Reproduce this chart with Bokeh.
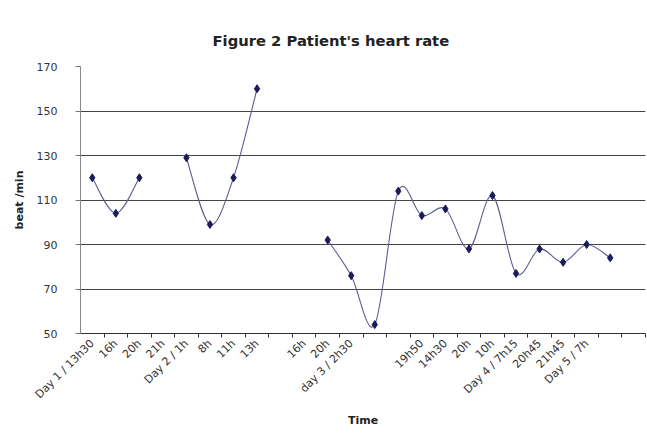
import math
from bokeh.plotting import figure
from bokeh.models import FixedTicker, ColumnDataSource, Range1d
from bokeh.embed import file_html
from bokeh.resources import INLINE

# ---- data ----
time_labels = ["Day 1 / 13h30", "16h", "20h", "21h", "Day 2 / 1h", "8h", "11h", "13h",
               "", "16h", "20h", "day 3 / 2h30", "", "", "19h50", "14h30", "20h", "10h",
               "Day 4 / 7h15", "20h45", "21h45", "Day 5 / 7h", "", ""]
heart_rate = [120, 104, 120, None, 129, 99, 120, 160, None, None, 92, 76, 54, 114,
              103, 106, 88, 112, 77, 88, 82, 90, 84, None]
y_ticks = [50, 70, 90, 110, 130, 150, 170]
grid_values = [70, 90, 110, 130, 150]

xs = list(range(len(time_labels)))

# split into continuous runs (gaps where no value)
runs, cur = [], []
for i, v in enumerate(heart_rate):
    if v is None:
        if cur:
            runs.append(cur)
        cur = []
    else:
        cur.append(i)
if cur:
    runs.append(cur)

seg = dict(x0=[], y0=[], x1=[], y1=[], cx0=[], cy0=[], cx1=[], cy1=[])
for r in runs:
    for k in range(len(r) - 1):
        a = r[k - 1] if k > 0 else r[k]
        b = r[k]
        c = r[k + 1]
        d = r[k + 2] if k + 2 < len(r) else r[k + 1]
        xa, xb, xc, xd = xs[a], xs[b], xs[c], xs[d]
        ya, yb, yc, yd = heart_rate[a], heart_rate[b], heart_rate[c], heart_rate[d]
        seg["x0"].append(xb); seg["y0"].append(yb)
        seg["x1"].append(xc); seg["y1"].append(yc)
        seg["cx0"].append(xb + (xc - xa) / 6.0); seg["cy0"].append(yb + (yc - ya) / 6.0)
        seg["cx1"].append(xc - (xd - xb) / 6.0); seg["cy1"].append(yc - (yd - yb) / 6.0)

pts_x = [x for x, v in zip(xs, heart_rate) if v is not None]
pts_y = [v for v in heart_rate if v is not None]

TEXT = "#333333"
FONT = "DejaVu Sans"

p = figure(width=647, height=433, output_backend="svg", toolbar_location=None,
           x_range=Range1d(-0.5, 23.5), y_range=Range1d(50, 170),
           min_border_left=80, min_border_right=2, min_border_top=66, min_border_bottom=100)
p.background_fill_color = "white"
p.border_fill_color = "white"
p.outline_line_color = None

p.title.text = "Figure 2 Patient's heart rate"
p.title.text_font = FONT
p.title.text_font_style = "bold"
p.title.text_font_size = "14.75px"
p.title.text_color = "#222222"
p.title.align = "left"
p.title.offset = 132
p.title.standoff = 36

# curve
p.bezier(x0="x0", y0="y0", x1="x1", y1="y1", cx0="cx0", cy0="cy0", cx1="cx1", cy1="cy1",
         source=ColumnDataSource(seg), line_color="#5E5C90", line_width=1.1)
p.scatter(pts_x, pts_y, marker="diamond", size=8, fill_color="#1B1A5C",
          line_color="#1B1A5C")

# x axis
xa = p.xaxis[0]
xa.ticker = FixedTicker(ticks=xs, minor_ticks=[i + 0.5 for i in xs])
xa.major_label_overrides = {i: lab for i, lab in enumerate(time_labels)}
xa.major_label_orientation = math.pi / 4
xa.major_tick_out = 0
xa.major_tick_in = 0
xa.minor_tick_out = 4
xa.minor_tick_in = 0
xa.minor_tick_line_color = "#333333"
xa.axis_line_color = "#333333"
xa.major_label_text_font = FONT
xa.major_label_text_font_size = "11px"
xa.major_label_text_color = TEXT
xa.major_label_standoff = 4
xa.axis_label = "Time"
xa.axis_label_text_font = FONT
xa.axis_label_text_font_style = "bold"
xa.axis_label_text_font_size = "11px"
xa.axis_label_text_color = "#222222"
xa.axis_label_standoff = 5

# y axis
ya = p.yaxis[0]
ya.ticker = FixedTicker(ticks=y_ticks)
ya.minor_tick_line_color = None
ya.major_tick_out = 5
ya.major_tick_in = 0
ya.major_tick_line_color = "#777777"
ya.axis_line_color = "#888888"
ya.major_label_text_font = FONT
ya.major_label_text_font_size = "11px"
ya.major_label_text_color = TEXT
ya.major_label_standoff = 18
ya.axis_label = "beat /min"
ya.axis_label_text_font = FONT
ya.axis_label_text_font_style = "bold"
ya.axis_label_text_font_size = "11px"
ya.axis_label_text_color = "#222222"
ya.axis_label_standoff = 8

p.xgrid.grid_line_color = None
p.ygrid.ticker = FixedTicker(ticks=grid_values)
p.ygrid.grid_line_color = "#444444"
p.ygrid.grid_line_width = 1

open("out.html", "w").write(file_html(p, INLINE))
